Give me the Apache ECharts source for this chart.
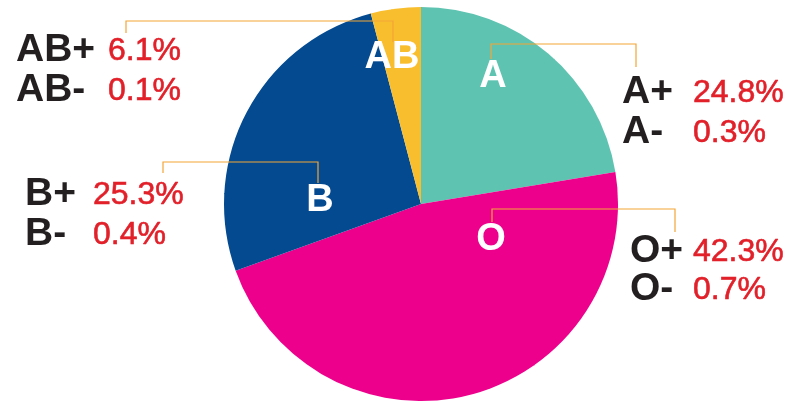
<!DOCTYPE html>
<html lang="en">
  <head>
    <meta charset="UTF-8" />
    <title>Blood types</title>
    <style>
      body {
        margin: 0;
        background: #fff;
      }
      #main {
        width: 791px;
        height: 401px;
      }
    </style>
  </head>
  <body>
    <div id="main"></div>
    <script src="https://cdn.jsdelivr.net/npm/echarts@6/dist/echarts.min.js"></script>
    <script>
      // data (slice sizes as drawn, clockwise from 12 o'clock)
      const groups = ["A", "O", "B", "AB"];
      const sliceShare = [22.4, 47.1, 26.4, 4.1];
      const plusPct = ["24.8%", "42.3%", "25.3%", "6.1%"];
      const minusPct = ["0.3%", "0.7%", "0.4%", "0.1%"];
      const colors = ["#5fc3b1", "#ec008c", "#034a91", "#f9be2e"];

      // layout of the annotations (same order as groups)
      const innerPos = [[493, 77], [491, 240], [320, 201], [392, 58]];
      const blocks = [
        { nameX: 622, pctX: 693, y1: 92, y2: 132, line: [[491, 59], [491, 44], [636, 44], [636, 67]] },
        { nameX: 630, pctX: 693, y1: 251, y2: 289, line: [[492, 222], [492, 209], [675, 209], [675, 232]] },
        { nameX: 25, pctX: 93, y1: 194, y2: 234, line: [[163, 173], [163, 162], [318, 162], [318, 183]] },
        { nameX: 16, pctX: 108, y1: 50, y2: 90, line: [[126, 33], [126, 21], [393, 21], [393, 42]] },
      ];

      const nameFont = 'bold 39px "Liberation Sans", Arial, sans-serif';
      const pctFont = '32px "Liberation Sans", Arial, sans-serif';

      const graphic = [];
      blocks.forEach((b, i) => {
        graphic.push({
          type: "polyline",
          z: 100,
          shape: { points: b.line },
          style: { stroke: "#f3a536", lineWidth: 1.2, fill: null },
        });
        [[groups[i] + "+", plusPct[i], b.y1], [groups[i] + "-", minusPct[i], b.y2]].forEach((row) => {
          graphic.push({
            type: "text",
            z: 100,
            style: { text: row[0], x: b.nameX, y: row[2], font: nameFont, fill: "#231f20", textVerticalAlign: "middle" },
          });
          graphic.push({
            type: "text",
            z: 100,
            style: {
              text: row[1], x: b.pctX, y: row[2] + 1, font: pctFont, fill: "#e2202a",
              stroke: "#e2202a", lineWidth: 0.6, textVerticalAlign: "middle",
            },
          });
        });
      });

      const myChart = echarts.init(document.getElementById("main"));
      const option = {
        animation: false,
        color: colors,
        series: [
          {
            type: "pie",
            center: [421, 204],
            radius: 197,
            startAngle: 90,
            clockwise: true,
            silent: true,
            itemStyle: { borderWidth: 0 },
            label: {
              show: true,
              position: "inside",
              formatter: "{b}",
              color: "#fff",
              fontSize: 38,
              fontWeight: "bold",
              fontFamily: "Liberation Sans",
            },
            labelLayout: function (params) {
              const p = innerPos[params.dataIndex];
              return { x: p[0], y: p[1], align: "center", verticalAlign: "middle" };
            },
            data: groups.map((g, i) => ({ name: g, value: sliceShare[i] })),
          },
        ],
        graphic: graphic,
      };
      myChart.setOption(option);
    </script>
  </body>
</html>
